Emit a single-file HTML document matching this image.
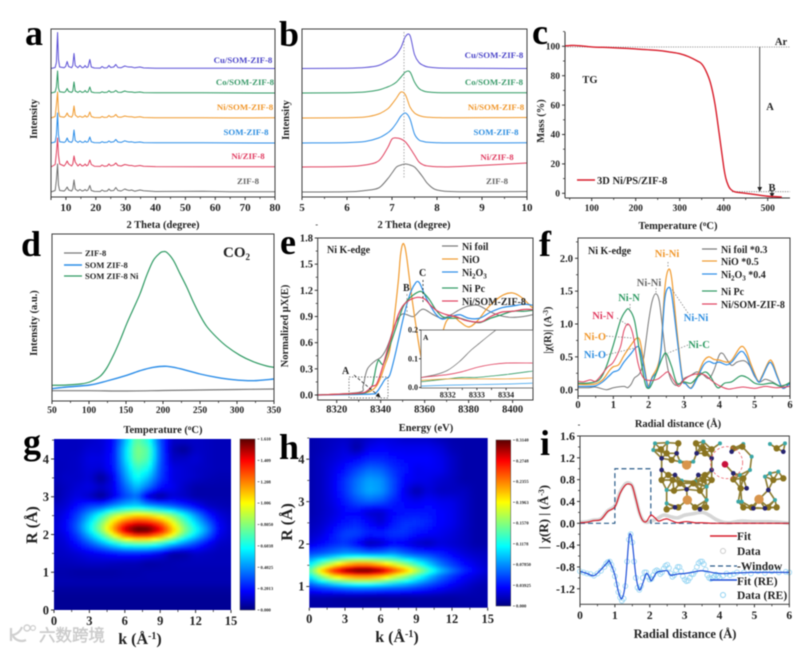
<!DOCTYPE html>
<html lang="en">
<head>
<meta charset="utf-8">
<title>Ni/SOM-ZIF-8 characterization figure</title>
<style>
html,body{margin:0;padding:0;background:#fff;width:794px;height:648px;overflow:hidden}
svg{display:block;filter:blur(.5px)}
text{font-family:"Liberation Serif","Noto Serif CJK SC",serif;font-weight:bold;fill:#222}
.lbl{font-size:36px;fill:#000}
.ttl{font-size:10.5px;text-anchor:middle}
.big{font-size:16px;text-anchor:middle}
.tag{font-size:8.8px;text-anchor:middle}
.leg{font-size:10px}
.frame{fill:none;stroke:#3c3c3c;stroke-width:1}
</style>
</head>
<body>
<svg id="figure" xmlns="http://www.w3.org/2000/svg" width="794" height="648" viewBox="0 0 794 648">
<defs>
<marker id="arrow-head" markerWidth="6" markerHeight="6" refX="5" refY="3" orient="auto-start-reverse"><path d="M0 0L6 3L0 6Z" fill="#222"/></marker>
<linearGradient id="jet-gradient" x1="0" y1="1" x2="0" y2="0">
<stop offset="0" stop-color="#00007f"/><stop offset=".11" stop-color="#0000ff"/><stop offset=".36" stop-color="#00ffff"/><stop offset=".625" stop-color="#ffff00"/><stop offset=".875" stop-color="#ff0000"/><stop offset="1" stop-color="#5a0000"/>
</linearGradient>
<clipPath id="clip-g"><rect x="54" y="439" width="177" height="171"/></clipPath>
<clipPath id="clip-h"><rect x="309.3" y="438" width="178.4" height="169.7"/></clipPath>
<clipPath id="clip-inset"><rect x="421" y="330" width="112" height="58"/></clipPath>
<filter id="heat-blur" x="-5%" y="-5%" width="110%" height="110%"><feGaussianBlur stdDeviation="1.3"/></filter>
</defs>

<!-- Panel a -->
<g>
<text class="lbl" x="25" y="45">a</text>
<g id="a-marks"></g>
<rect class="frame" x="51" y="29" width="224" height="168"/>
<g id="a-axis"></g>
<text class="ttl" x="163" y="228">2 Theta (degree)</text>
<text class="ttl" x="37" y="119" transform="rotate(-90 37 119)">Intensity</text>
<text class="tag" x="243" y="63" style="fill:#4b45c8">Cu/SOM-ZIF-8</text>
<text class="tag" x="245" y="85" style="fill:#3a9a6a">Co/SOM-ZIF-8</text>
<text class="tag" x="245" y="110" style="fill:#f0962a">Ni/SOM-ZIF-8</text>
<text class="tag" x="246" y="135" style="fill:#2e8ee0">SOM-ZIF-8</text>
<text class="tag" x="248" y="159" style="fill:#e03a5f">Ni/ZIF-8</text>
<text class="tag" x="248" y="184" style="fill:#666">ZIF-8</text>
</g>

<!-- Panel b -->
<g>
<text class="lbl" x="279" y="46">b</text>
<line x1="404" y1="32" x2="404" y2="179" stroke="#999" stroke-width=".8" stroke-dasharray="1.5 1.5"/>
<g id="b-marks"></g>
<rect class="frame" x="302" y="29" width="225" height="168"/>
<g id="b-axis"></g>
<text class="ttl" x="414" y="228">2 Theta (degree)</text>
<text class="ttl" x="289" y="120" transform="rotate(-90 289 120)">Intensity</text>
<text class="tag" x="494" y="58" style="fill:#4b45c8">Cu/SOM-ZIF-8</text>
<text class="tag" x="494" y="85" style="fill:#3a9a6a">Co/SOM-ZIF-8</text>
<text class="tag" x="496" y="110" style="fill:#f0962a">Ni/SOM-ZIF-8</text>
<text class="tag" x="496" y="135" style="fill:#2e8ee0">SOM-ZIF-8</text>
<text class="tag" x="497" y="160" style="fill:#e03a5f">Ni/ZIF-8</text>
<text class="tag" x="497" y="184" style="fill:#666">ZIF-8</text>
</g>

<!-- Panel c -->
<g>
<text class="lbl" x="532" y="44">c</text>
<g id="c-axis"></g>
<line x1="565" y1="47" x2="790" y2="47" stroke="#777" stroke-width=".8" stroke-dasharray="1.2 1.2"/>
<line x1="732" y1="191.7" x2="790" y2="191.7" stroke="#777" stroke-width=".8" stroke-dasharray="1.2 1.2"/>
<line x1="759.7" y1="47" x2="759.7" y2="191" stroke="#222" stroke-width=".8" marker-end="url(#arrow-head)"/>
<line x1="772" y1="190" x2="772" y2="197" stroke="#222" stroke-width=".8" marker-end="url(#arrow-head)"/>
<g id="c-marks"></g>
<line x1="577" y1="180" x2="595" y2="180" stroke="#d81c2a" stroke-width="1.4"/>
<text x="597" y="184" font-size="10.5">3D Ni/PS/ZIF-8</text>
<text x="590" y="83" class="ttl">TG</text>
<text x="781" y="45" class="ttl">Ar</text>
<text x="770" y="110" class="ttl">A</text>
<text x="772" y="191" class="ttl">B</text>
<text class="ttl" x="678" y="229">Temperature (<tspan dy="-3" font-size="7">o</tspan><tspan dy="3">C)</tspan></text>
<text class="ttl" x="544" y="121" transform="rotate(-90 544 121)">Mass (%)</text>
</g>

<!-- Panel d -->
<g>
<text class="lbl" x="21" y="256">d</text>
<g id="d-marks"></g>
<rect class="frame" x="52" y="234" width="222" height="167"/>
<g id="d-axis"></g>
<text x="223" y="257" font-size="15">CO<tspan dy="3" font-size="9">2</tspan></text>
<line x1="64" y1="253" x2="82" y2="253" stroke="#777" stroke-width="1.2"/>
<line x1="64" y1="265" x2="82" y2="265" stroke="#2b8de8" stroke-width="1.4"/>
<line x1="64" y1="276" x2="82" y2="276" stroke="#2f9a63" stroke-width="1.2"/>
<text x="85" y="256" font-size="8.5">ZIF-8</text>
<text x="85" y="268" font-size="8.5">SOM ZIF-8</text>
<text x="85" y="279" font-size="8.5">SOM ZIF-8 Ni</text>
<text class="ttl" x="163" y="433">Temperature (<tspan dy="-3" font-size="7">o</tspan><tspan dy="3">C)</tspan></text>
<text class="ttl" x="37" y="323" transform="rotate(-90 37 323)">Intensity (a.u.)</text>
</g>

<!-- Panel e -->
<g>
<text class="lbl" x="280" y="254">e</text>
<g id="e-marks"></g>
<rect class="frame" x="317.7" y="238" width="215.3" height="162"/>
<g id="e-axis"></g>
<rect x="349" y="377" width="39" height="21" fill="none" stroke="#555" stroke-width=".7" stroke-dasharray="1.5 1.5"/>
<line x1="354" y1="375" x2="380" y2="397" stroke="#222" stroke-width=".8" stroke-dasharray="3 2" marker-end="url(#arrow-head)"/>
<line x1="407" y1="294" x2="407" y2="315" stroke="#888" stroke-width=".8" stroke-dasharray="2 2"/>
<line x1="423" y1="280" x2="423" y2="302" stroke="#222" stroke-width=".8" stroke-dasharray="2 2"/>
<text x="342" y="374" font-size="10">A</text>
<text x="403" y="291" font-size="10">B</text>
<text x="419" y="276" font-size="10">C</text>
<text x="327" y="253" font-size="10">Ni K-edge</text>
<line x1="442" y1="246" x2="458" y2="246" stroke="#777" stroke-width="1.2"/>
<line x1="442" y1="259" x2="458" y2="259" stroke="#f09a2e" stroke-width="1.2"/>
<line x1="442" y1="272" x2="458" y2="272" stroke="#2b8de8" stroke-width="1.2"/>
<line x1="442" y1="288" x2="458" y2="288" stroke="#2f9a63" stroke-width="1.2"/>
<line x1="442" y1="301" x2="458" y2="301" stroke="#e0415f" stroke-width="1.2"/>
<text class="leg" x="462" y="250">Ni foil</text>
<text class="leg" x="462" y="263">NiO</text>
<text class="leg" x="462" y="276">Ni<tspan dy="2.5" font-size="7">2</tspan><tspan dy="-2.5">O</tspan><tspan dy="2.5" font-size="7">3</tspan></text>
<text class="leg" x="462" y="292">Ni Pc</text>
<text class="leg" x="462" y="305">Ni/SOM-ZIF-8</text>
<g>
<rect x="421" y="330" width="112" height="58" fill="#fff" stroke="#555" stroke-width=".8"/>
<g id="inset-marks" clip-path="url(#clip-inset)"></g>
<g id="inset-axis"></g>
<text x="423" y="340" font-size="7.5">A</text>
</g>
<text class="ttl" x="426" y="431">Energy (eV)</text>
<text class="ttl" x="288" y="326" transform="rotate(-90 288 326)">Normalized μX(E)</text>
</g>

<!-- Panel f -->
<g>
<text class="lbl" x="539" y="256">f</text>
<g id="f-marks"></g>
<rect class="frame" x="578" y="238" width="212" height="158"/>
<g id="f-axis"></g>
<text x="588" y="254" font-size="10">Ni K-edge</text>
<line x1="702" y1="249" x2="717" y2="249" stroke="#777" stroke-width="1.2"/>
<line x1="702" y1="261" x2="717" y2="261" stroke="#f09a2e" stroke-width="1.2"/>
<line x1="702" y1="274" x2="717" y2="274" stroke="#2b8de8" stroke-width="1.2"/>
<line x1="702" y1="291" x2="717" y2="291" stroke="#2f9a63" stroke-width="1.2"/>
<line x1="702" y1="304" x2="717" y2="304" stroke="#e0415f" stroke-width="1.2"/>
<text class="leg" x="721" y="253">Ni foil *0.3</text>
<text class="leg" x="721" y="265">NiO *0.5</text>
<text class="leg" x="721" y="278">Ni<tspan dy="2.5" font-size="7">2</tspan><tspan dy="-2.5">O</tspan><tspan dy="2.5" font-size="7">3</tspan><tspan dy="-2.5"> *0.4</tspan></text>
<text class="leg" x="721" y="295">Ni Pc</text>
<text class="leg" x="721" y="308">Ni/SOM-ZIF-8</text>
<g text-anchor="middle" font-size="10.5">
<text x="667" y="257" style="fill:#f0962a">Ni-Ni</text>
<text x="649" y="286" style="fill:#666">Ni-Ni</text>
<text x="629" y="301" style="fill:#2f9a63">Ni-N</text>
<text x="603" y="319" style="fill:#e03a5f">Ni-N</text>
<text x="595" y="340" style="fill:#f0962a">Ni-O</text>
<text x="595" y="358" style="fill:#2e8ee0">Ni-O</text>
<text x="696" y="321" style="fill:#2e8ee0">Ni-Ni</text>
<text x="699" y="348" style="fill:#2f9a63">Ni-C</text>
</g>
<g stroke="#777" stroke-width=".7" stroke-dasharray="1.5 1.5" fill="none">
<path d="M668 262V268M656 288V294M630 304V312M617 318L629 326M606 336L632 338M606 355L639 347M688 313L671 288M688 345L668 353"/>
</g>
<text class="ttl" x="678" y="427">Radial distance (Å)</text>
<text class="ttl" x="551" y="330" transform="rotate(-90 551 330)">|χ(R)| (A<tspan dy="-3" font-size="7">-3</tspan><tspan dy="3">)</tspan></text>
</g>

<!-- Panel g -->
<g>
<text class="lbl" x="23" y="454">g</text>
<g clip-path="url(#clip-g)"><g id="g-heat" filter="url(#heat-blur)"></g></g>
<g id="g-axis"></g>
<rect x="240" y="439" width="15" height="171" fill="url(#jet-gradient)" stroke="#444" stroke-width=".5"/>
<g id="g-bar"></g>
<text class="big" x="140" y="644">k (Å<tspan dy="-5" font-size="10">-1</tspan><tspan dy="5">)</tspan></text>
<text class="big" x="37" y="525" transform="rotate(-90 37 525)">R (Å)</text>
<g>
<path d="M11 628V641M11 635C16 635 20 632 22 627M13 636C16 641 22 642 26 640" fill="none" stroke="#cfcfcf" stroke-width="2.2"/>
<circle cx="27" cy="628" r="3" fill="none" stroke="#cfcfcf" stroke-width="1.4"/>
<circle cx="33" cy="628" r="2.4" fill="none" stroke="#cfcfcf" stroke-width="1.2"/>
<text x="39" y="641" font-size="16.5" style="fill:#c8c8c8;stroke:#cfcfcf;stroke-width:.5;font-family:'Noto Sans CJK SC',sans-serif;font-weight:normal">六数跨境</text>
</g>
</g>

<!-- Panel h -->
<g>
<text class="lbl" x="279" y="459">h</text>
<g clip-path="url(#clip-h)"><g id="h-heat" filter="url(#heat-blur)"></g></g>
<g id="h-axis"></g>
<rect x="496" y="440" width="14.7" height="166" fill="url(#jet-gradient)" stroke="#444" stroke-width=".5"/>
<g id="h-bar"></g>
<text class="big" x="397" y="642">k (Å<tspan dy="-5" font-size="10">-1</tspan><tspan dy="5">)</tspan></text>
<text class="big" x="292" y="522" transform="rotate(-90 292 522)">R (Å)</text>
</g>

<!-- Panel i -->
<g>
<text class="lbl" x="540" y="455">i</text>
<g id="i-marks"></g>
<g id="i-structure" transform="translate(530 420) scale(.3333)"></g>
<rect class="frame" x="580" y="436" width="209.3" height="168.3"/>
<g id="i-axis"></g>
<line x1="710" y1="536" x2="737" y2="536" stroke="#d81c2a" stroke-width="1.4"/>
<circle cx="723" cy="551" r="2.5" fill="none" stroke="#ccc" stroke-width="1"/>
<line x1="710" y1="566" x2="737" y2="566" stroke="#2b5c8a" stroke-width="1.3" stroke-dasharray="5 3"/>
<line x1="710" y1="580" x2="737" y2="580" stroke="#1f4fd8" stroke-width="1.4"/>
<circle cx="723" cy="595" r="2.5" fill="none" stroke="#8fd2f2" stroke-width="1"/>
<text x="737" y="540" font-size="11.5">Fit</text>
<text x="737" y="555" font-size="11.5">Data</text>
<text x="737" y="570" font-size="11.5">-Window</text>
<text x="737" y="585" font-size="11.5">Fit (RE)</text>
<text x="737" y="599" font-size="11.5">Data (RE)</text>
<text x="685" y="638" font-size="12.5" text-anchor="middle">Radial distance (Å)</text>
<text x="548" y="517" font-size="13" text-anchor="middle" transform="rotate(-90 548 517)">| χ(R) | (Å<tspan dy="-4" font-size="8">-3</tspan><tspan dy="4">)</tspan></text>
</g>
</svg>

<script>
// Panel a: wide-angle XRD (intensity above each trace baseline)
const aTheta=[5,6.4,6.8,7.2,7.5,7.9,9.4,9.9,10.4,10.9,11.9,12.3,12.7,13.1,14,14.7,15.4,16,16.4,16.9,17.4,18,18.5,19.5,21.5,22.1,22.8,23.8,24.4,25,26,26.7,27.4,28.5,29.7,30.5,31.2,32,33,34.8,36,40,56,65,80];
const aCu=[0,1,6,36,9,1.5,.8,2,7,2,.8,3,15,3,.8,3,.8,1.2,3,1,1.5,9,1.5,.5,.4,2,.6,.8,3,1,1.5,4,1,.8,2.5,1.8,1.5,1.5,.7,1.5,.6,.3,.3,.2,0];
const aCo=[0,1,6,22,5,1.2,.6,1.5,4.5,1.5,.6,2,11,2,.6,2,.6,1,2.5,.8,1,6,1,.4,.3,1.2,.5,.7,2.2,.8,1,2.5,.8,.6,2,1.2,1,1,.5,1,.4,.2,.2,.1,0];
const aNiSom=[0,1.5,13,26,7,1.5,.8,2,5,2,.8,3,12,3,.8,1.8,.8,1.2,2.5,1,1.5,6,1.5,.5,.4,1.5,.6,.8,2.5,1,1.5,3.5,1,.8,2,1.5,1.2,1.2,.6,1.2,.5,.2,.2,.1,.2];
const aSom=[0,1,8,30,8,1.2,.6,1.5,5,1.5,.6,2.5,13,2.5,.6,2,.6,.8,2,.8,1.2,6,1.2,.4,.3,1.3,.5,.7,2,.8,1.2,3.5,1,.6,2.2,1.4,1,1.2,.5,1,.4,.2,.3,.1,0];
const aNiZif=[0,2.5,14,29,12,3,1,3,6,3,1,3,11,5,1,3,1,1.5,3,1.2,2,7,2.5,.8,.6,2,.8,1,3,1.2,2,4,1.5,1,2.5,2,1.5,1.5,.8,1.5,.8,.4,.3,.2,.3];
const aZif=[0,1.5,12,28,7,1.5,1,2.5,5,2,1,3,12,3,1,2.5,1,1.5,2.5,1.2,2,6.5,1.5,.6,.5,2,.8,1,3,1.2,1.5,4.5,1.5,1,3,2,1.5,2,.8,2,1.2,.5,.8,.3,.2];
const aXTicks=[10,20,30,40,50,60,70,80];
const stackOffsetCu=128.5, stackOffsetCo=104, stackOffsetNiSom=79, stackOffsetSom=54, stackOffsetNiZif=30, stackOffsetZif=5;

// Panel b: first-peak XRD
const bTheta=[5,6,6.4,6.7,6.9,7,7.1,7.2,7.3,7.4,7.5,7.6,7.7,7.8,8,8.5,10];
const bCu=[0,.3,1,3,7.5,10,14,21,32,33,14,6,3,1.5,.6,.2,0];
const bCo=[0,.3,1,3,6,8,11,16,21,21,11,4.5,2,1,.4,.3,.3];
const bNiSom=[0,.3,1,4,9,14,20,26,23,11,5,2.5,1.3,.8,.4,.2,.5];
const bSom=[0,.4,1.5,5,10,14,20,27,30,24,9,3,1.5,.7,.3,.1,.2];
const bNiZif=[0,.5,2,6,19,28,29,28,25,19,12,5,2,1,.3,.5,4];
const bZif=[0,.2,1.5,4,13,19,25,27,28,27,25,20,14,8,2,.3,.5];
const bXTicks=[5,6,7,8,9,10];

// Panel c: TG
const cCurve=[[40,100.3],[50,100.5],[60,100.6],[80,100.2],[100,99.6],[150,99],[200,98.2],[250,97.2],[280,96],[300,95],[320,93],[340,90],[350,88],[360,83],[370,75],[380,61],[390,40],[400,18],[405,10],[410,5.6],[415,3],[425,1],[450,0],[480,-1.2],[500,-2],[532,-2.5]];
const cXTicks=[100,200,300,400,500];
const cYTicks=[0,20,40,60,80,100];

// Panel d: CO2 TPD
const dGreen=[[50,15.7],[70,16],[88,17],[101,19],[115,24.7],[124,33],[133,45.7],[142,60.7],[151,77.3],[160,92.3],[169,107.3],[178,125.7],[187,140.7],[196,148],[200,149.3],[205,148.7],[214,140.7],[223,127.3],[232,114],[241,99],[250,85.7],[259,74.7],[272,64],[286,54.7],[304,45.7],[322,39.3],[340,35],[350,33.7]];
const dBlue=[[50,12.3],[70,14],[101,16],[124,20],[151,25.7],[169,30.3],[187,33.7],[205,34.7],[223,32.3],[250,27],[272,23.7],[295,21.3],[322,20.3],[350,22]];
const dGray=[[50,10.3],[100,10.3],[150,10],[200,10.5],[250,11],[300,11.5],[350,12]];
const dXTicks=[50,100,150,200,250,300,350];

// Panel e: XANES
const eFoil=[[8311,0],[8330,.03],[8332,.1],[8333,.22],[8334,.3],[8336,.36],[8338,.4],[8340,.43],[8342,.5],[8344,.62],[8346,.78],[8348,.88],[8350,.93],[8352,.92],[8355,.9],[8358,.97],[8360,.98],[8364,.92],[8368,.88],[8372,.92],[8376,.98],[8380,1.02],[8384,1.03],[8388,.98],[8392,.93],[8396,.9],[8400,.89],[8405,.9],[8409,.92]];
const eNiO=[[8311,0],[8330,.02],[8335,.04],[8338,.1],[8340,.2],[8342,.35],[8344,.5],[8346,.85],[8348,1.3],[8349,1.6],[8350,1.73],[8351,1.7],[8352,1.55],[8354,1.15],[8356,.8],[8358,.48],[8360,.26],[8361,.2],[8363,.25],[8365,.42],[8368,.7],[8370,.85],[8373,.9],[8376,.84],[8380,.78],[8384,.85],[8388,.98],[8392,1.08],[8396,1.15],[8400,1.17],[8404,1.12],[8409,1]];
const eNi2O3=[[8311,0],[8335,.01],[8338,.03],[8340,.1],[8342,.18],[8344,.22],[8346,.4],[8348,.62],[8350,.85],[8352,1.05],[8354,1.2],[8356,1.29],[8357,1.3],[8358,1.27],[8360,1.15],[8362,1.05],[8365,.93],[8368,.87],[8372,.9],[8376,.92],[8380,.88],[8385,.88],[8390,.95],[8395,1],[8400,1.02],[8405,1.04],[8409,1.03]];
const ePc=[[8311,0],[8330,.015],[8334,.04],[8336,.1],[8337,.2],[8338,.33],[8339,.4],[8340,.37],[8341,.35],[8342,.4],[8344,.55],[8346,.7],[8348,.85],[8350,1],[8352,1.08],[8354,1.13],[8357,1.18],[8359,1.18],[8362,1.1],[8365,.98],[8368,.9],[8372,.88],[8376,.88],[8380,.85],[8385,.83],[8390,.88],[8395,.92],[8400,.96],[8405,.96],[8409,.97]];
const eNiSom=[[8311,0],[8330,.02],[8334,.05],[8336,.1],[8338,.12],[8340,.25],[8342,.42],[8344,.6],[8346,.76],[8348,.92],[8350,1.02],[8352,1.07],[8354,1.1],[8357,1.12],[8360,1.1],[8363,1.02],[8366,.96],[8370,.92],[8374,.9],[8378,.86],[8382,.84],[8386,.84],[8390,.9],[8395,.95],[8400,.96],[8405,.98],[8409,.98]];
const eXTicks=[8320,8340,8360,8380,8400];
const eYTicks=[0,.3,.6,.9,1.2,1.5,1.8];
const insetFoil=[[8331.1,.035],[8331.6,.045],[8332,.06],[8332.4,.09],[8332.8,.13],[8333.1,.155],[8333.4,.18],[8333.65,.2],[8333.9,.22]];
const insetNiSom=[[8331.1,.035],[8332,.045],[8332.5,.055],[8333,.07],[8333.5,.08],[8334,.085],[8334.9,.085]];
const insetPc=[[8331.1,.02],[8332,.03],[8332.5,.035],[8333,.035],[8333.5,.04],[8334,.045],[8334.9,.057]];
const insetNiO=[[8331.1,.025],[8332,.03],[8333,.03],[8334,.03],[8334.9,.033]];
const insetNi2O3=[[8331.1,.005],[8332,.008],[8333,.01],[8334,.012],[8334.9,.015]];
const insetXTicks=[8332,8333,8334];
const insetYTicks=[0,.1,.2];

// Panel f: FT-EXAFS
const fFoil=[[0,.03],[.3,.03],[.5,.04],[.8,0],[1,.03],[1.3,.05],[1.4,.03],[1.5,.08],[1.6,.18],[1.75,.25],[1.85,.45],[2,1.05],[2.1,1.35],[2.2,1.46],[2.3,1.35],[2.4,.9],[2.5,.45],[2.6,.2],[2.75,.07],[2.9,.1],[3,.17],[3.2,.22],[3.35,.27],[3.5,.25],[3.7,.17],[3.85,.3],[4,.53],[4.1,.55],[4.2,.47],[4.35,.37],[4.5,.42],[4.7,.44],[4.85,.37],[5,.2],[5.15,.12],[5.3,.16],[5.5,.12],[5.7,.06],[5.85,.07],[6,.08]];
const fNiO=[[0,.08],[.3,.08],[.5,.09],[.7,.15],[.9,.3],[1,.35],[1.15,.38],[1.3,.52],[1.5,.68],[1.65,.78],[1.75,.75],[1.85,.45],[1.95,.12],[2,.06],[2.1,.2],[2.25,.35],[2.35,.65],[2.45,1.5],[2.55,1.82],[2.65,1.7],[2.8,.9],[2.95,.2],[3.05,.1],[3.2,.03],[3.35,.18],[3.55,.43],[3.7,.5],[3.85,.46],[4,.45],[4.2,.42],[4.35,.45],[4.6,.65],[4.75,.6],[4.9,.38],[5.1,.13],[5.2,.2],[5.4,.43],[5.5,.42],[5.65,.2],[5.8,.02],[6,.1]];
const fNi2O3=[[0,.05],[.3,.05],[.5,.06],[.7,.12],[.9,.22],[1,.27],[1.15,.3],[1.3,.42],[1.5,.55],[1.65,.65],[1.75,.62],[1.85,.38],[1.95,.1],[2,.03],[2.1,.18],[2.25,.3],[2.35,.6],[2.45,1.35],[2.55,1.55],[2.65,1.45],[2.8,.8],[2.95,.17],[3.05,.09],[3.2,.02],[3.35,.15],[3.55,.37],[3.7,.43],[3.85,.4],[4,.42],[4.2,.38],[4.35,.42],[4.6,.58],[4.75,.52],[4.9,.33],[5.1,.12],[5.2,.18],[5.4,.4],[5.5,.38],[5.65,.18],[5.8,.02],[6,.1]];
const fPc=[[0,.1],[.3,.1],[.6,.15],[.8,.35],[1,.68],[1.2,1.05],[1.35,1.2],[1.45,1.22],[1.6,1.05],[1.75,.55],[1.9,.1],[2,.02],[2.1,.1],[2.25,.3],[2.4,.5],[2.5,.55],[2.65,.35],[2.8,.1],[3,.12],[3.2,.1],[3.4,.2],[3.6,.27],[3.75,.2],[3.95,.03],[4.15,.1],[4.35,.12],[4.6,.21],[4.8,.18],[5,.1],[5.2,.08],[5.5,.1],[5.75,.05],[6,.11]];
const fNiSom=[[0,.13],[.15,.12],[.35,.15],[.5,.13],[.7,.25],[.85,.35],[1,.42],[1.2,.65],[1.3,.9],[1.42,1],[1.55,.85],[1.7,.4],[1.85,.18],[2.05,.14],[2.25,.16],[2.4,.22],[2.55,.27],[2.7,.15],[2.85,.05],[3,.15],[3.2,.22],[3.4,.24],[3.6,.22],[3.8,.13],[4,.06],[4.25,.01],[4.5,.03],[4.7,.04],[5,.02],[5.3,.05],[5.6,.03],[6,.05]];
const fXTicks=[0,1,2,3,4,5,6];
const fYTicks=[0,.5,1,1.5,2];

// Panel g: wavelet transform (columns k = 0..15, rows by R from top to bottom)
const gK=[0,1,2,3,4,5,6,7,8,9,10,11,12,13,14,15];
const gR=[4.5,4.25,4,3.75,3.5,3.25,3,2.75,2.5,2.25,2.125,2,1.75,1.5,1.25,1,.75,.5,.25,0];
const gValues=[
[.09,.09,.09,.1,.12,.18,.45,.75,.62,.3,.1,.1,.1,.09,.08,.08],
[.09,.09,.09,.12,.12,.2,.5,.8,.72,.32,.08,.03,.1,.09,.08,.08],
[.09,.09,.1,.14,.14,.2,.5,.78,.7,.32,.1,.1,.12,.09,.08,.08],
[.08,.09,.1,.13,.12,.2,.45,.68,.6,.3,.14,.12,.1,.09,.08,.08],
[.08,.1,.1,.12,.03,.15,.4,.6,.48,.28,.14,.12,.1,.08,.07,.07],
[.06,.09,.12,.14,.1,.15,.33,.48,.35,.2,.16,.1,.06,.06,.06,.06],
[.05,.1,.14,.1,.02,.14,.28,.35,.1,.03,.12,.1,.06,.06,.06,.06],
[.09,.12,.2,.27,.3,.4,.48,.52,.44,.38,.32,.25,.18,.1,.08,.07],
[.1,.16,.28,.45,.65,.88,1,1.08,1.05,.95,.82,.62,.42,.24,.13,.09],
[.11,.18,.33,.56,.82,1.12,1.4,1.52,1.5,1.35,1.06,.78,.56,.37,.17,.1],
[.11,.17,.32,.55,.82,1.14,1.47,1.62,1.6,1.42,1.12,.82,.6,.4,.17,.1],
[.1,.15,.28,.48,.7,1,1.3,1.45,1.43,1.28,1.05,.75,.55,.35,.15,.1],
[.1,.12,.2,.3,.42,.55,.66,.7,.7,.62,.5,.38,.28,.17,.1,.09],
[.09,.1,.12,.15,.17,.2,.22,.22,.2,.15,.05,.05,.1,.09,.08,.08],
[.08,.08,.09,.1,.1,.09,.08,.08,.05,.06,.07,.08,.08,.08,.08,.08],
[.06,.06,.05,.05,.05,.05,.06,.06,.07,.07,.07,.07,.07,.07,.07,.07],
[.07,.07,.07,.07,.07,.07,.07,.07,.07,.07,.07,.07,.07,.07,.07,.07],
[.04,.04,.04,.04,.04,.04,.04,.04,.04,.04,.04,.04,.04,.04,.04,.04],
[.03,.03,.03,.03,.03,.03,.03,.03,.03,.03,.03,.03,.03,.03,.03,.03],
[.03,.03,.03,.03,.03,.03,.03,.03,.03,.03,.03,.03,.03,.03,.03,.03]];
const gXTicks=[0,3,6,9,12,15];
const gYTicks=[0,1,2,3,4];
const gBarLabels=["0.000","0.2013","0.4025","0.6038","0.8050","1.006","1.208","1.409","1.610"];
const gMax=1.61;

// Panel h: wavelet transform (columns k = 0..15, rows by R from top to bottom)
const hK=[0,1,2,3,4,5,6,7,8,9,10,11,12,13,14,15];
const hR=[4.5,4.25,4,3.75,3.5,3.25,3,2.75,2.5,2.25,2,1.75,1.5,1.375,1.25,1,.75,.5];
const hValues=[
[.012,.015,.018,.02,.015,.02,.025,.025,.02,.02,.02,.015,.012,.012,.012,.012],
[.012,.015,.02,.025,.01,.03,.035,.03,.03,.03,.03,.025,.015,.012,.012,.012],
[.012,.018,.024,.03,.035,.045,.045,.04,.035,.035,.035,.03,.02,.012,.012,.012],
[.012,.018,.028,.04,.055,.068,.065,.05,.04,.03,.032,.03,.02,.012,.012,.012],
[.012,.018,.03,.05,.07,.085,.08,.058,.035,.03,.028,.022,.018,.012,.012,.012],
[.012,.018,.03,.05,.072,.088,.082,.058,.03,.012,.025,.018,.018,.018,.012,.012],
[.012,.018,.028,.042,.058,.065,.06,.045,.035,.03,.035,.03,.028,.02,.012,.012],
[.012,.018,.025,.035,.035,.022,.02,.035,.038,.04,.04,.035,.03,.02,.012,.012],
[.015,.02,.03,.04,.045,.035,.022,.04,.05,.05,.045,.035,.03,.02,.012,.012],
[.018,.025,.04,.055,.055,.045,.045,.05,.05,.04,.035,.03,.025,.018,.012,.012],
[.025,.035,.045,.05,.035,.012,.018,.035,.03,.02,.015,.025,.022,.018,.012,.012],
[.06,.065,.075,.085,.085,.08,.08,.085,.07,.06,.055,.045,.035,.025,.02,.018],
[.11,.16,.2,.235,.255,.255,.235,.205,.175,.14,.105,.075,.055,.04,.028,.02],
[.14,.21,.265,.3,.315,.315,.3,.26,.225,.18,.135,.095,.07,.048,.032,.022],
[.11,.165,.21,.235,.25,.25,.235,.2,.17,.135,.1,.072,.052,.036,.026,.018],
[.05,.06,.07,.08,.085,.085,.08,.075,.07,.06,.05,.04,.03,.022,.015,.012],
[.012,.012,.01,.008,.008,.006,.006,.008,.008,.01,.01,.01,.01,.012,.012,.012],
[.01,.01,.01,.01,.01,.01,.01,.01,.01,.01,.01,.01,.01,.01,.01,.01]];
const hXTicks=[0,3,6,9,12,15];
const hYTicks=[1,2,3,4];
const hBarLabels=["0.000","0.03925","0.07850","0.1178","0.1570","0.1963","0.2355","0.2748","0.3140"];
const hMax=.314;

// Panel i: R-space fit
const iFit=[[0,.01],[.2,.02],[.4,.05],[.6,.07],[.8,.22],[1,.3],[1.15,.55],[1.3,.7],[1.4,.72],[1.5,.68],[1.6,.45],[1.7,.2],[1.8,.05],[1.9,.03],[2,.13],[2.05,.15],[2.15,.1],[2.25,.04],[2.4,.07],[2.5,.08],[2.65,.04],[2.8,.01],[3,.03],[3.1,.03],[3.3,.01],[3.5,.01],[3.8,0],[4,0],[6,0]];
const iData=[[0,.02],[.2,.03],[.4,.06],[.6,.08],[.8,.23],[1,.32],[1.15,.57],[1.3,.72],[1.4,.74],[1.5,.68],[1.6,.45],[1.7,.2],[1.8,.06],[1.9,.02],[2,.03],[2.2,.08],[2.4,.15],[2.6,.12],[2.8,.1],[3,.15],[3.2,.17],[3.5,.2],[3.7,.15],[3.9,.07],[4.1,.02],[4.3,.01],[4.6,.04],[5,.03],[5.4,.03],[5.7,.02],[6,0]];
const iFitRe=[[0,-.88],[.2,-.92],[.4,-.96],[.6,-.85],[.8,-.71],[.85,-.7],[1,-.95],[1.1,-1.25],[1.2,-1.38],[1.3,-1.1],[1.4,-.3],[1.45,-.2],[1.5,-.35],[1.6,-.95],[1.7,-1.22],[1.8,-1.1],[1.9,-.92],[2,-1],[2.05,-1.05],[2.2,-.9],[2.35,-.88],[2.5,-.87],[2.6,-.95],[2.8,-.93],[3,-.92],[3.2,-.9],[3.5,-.87],[4,-.92],[4.5,-.91],[5,-.9],[6,-.9]];
const iDataRe=[[0,-.88],[.1,-.9],[.2,-.92],[.3,-.93],[.4,-.96],[.5,-.92],[.6,-.87],[.7,-.8],[.75,-.74],[.8,-.71],[.85,-.7],[.9,-.76],[.95,-.85],[1,-.97],[1.05,-1.12],[1.1,-1.26],[1.15,-1.36],[1.2,-1.42],[1.25,-1.38],[1.3,-1.15],[1.35,-.7],[1.4,-.3],[1.45,-.2],[1.5,-.35],[1.55,-.7],[1.6,-1],[1.65,-1.18],[1.7,-1.22],[1.75,-1.15],[1.8,-1],[1.85,-.9],[1.9,-.9],[1.95,-.98],[2,-1.03],[2.05,-1.02],[2.1,-.95],[2.15,-.88],[2.2,-.86],[2.25,-.88],[2.3,-.93],[2.35,-.9],[2.4,-.83],[2.45,-.78],[2.5,-.76],[2.55,-.82],[2.6,-.92],[2.65,-.98],[2.7,-.95],[2.75,-.86],[2.8,-.8],[2.85,-.8],[2.9,-.88],[2.95,-.97],[3,-1.03],[3.05,-1.06],[3.1,-1.05],[3.15,-1],[3.2,-.93],[3.25,-.93],[3.3,-.88],[3.35,-.8],[3.4,-.73],[3.45,-.7],[3.5,-.7],[3.55,-.75],[3.6,-.85],[3.65,-.95],[3.7,-1],[3.75,-1.02],[3.8,-1],[3.85,-.97],[3.9,-.94],[3.95,-.97],[4,-1],[4.1,-.96],[4.2,-.92],[4.3,-.95],[4.4,-.93],[4.5,-.9],[4.7,-.9],[4.9,-.92],[5.1,-.88],[5.3,-.91],[5.5,-.88],[5.7,-.9],[5.9,-.89],[6,-.9]];
const iWindow=[[0,0],[1,0],[1,1],[2.03,1],[2.03,0],[6,0]];
const iXTicks=[0,1,2,3,4,5,6];
const iYTicks=[-1.2,-.8,-.4,0,.4,.8,1.2,1.6];

const NS="http://www.w3.org/2000/svg";
const GRAY="#707070",RED="#e0415f",BLUE="#2b8de8",ORANGE="#f09a2e",GREEN="#2f9a63",PURPLE="#5b50d6";
const scale=(d0,d1,r0,r1)=>v=>r0+(v-d0)/(d1-d0)*(r1-r0);
const byId=id=>document.getElementById(id);

function drawCurve(parent,name,pts,X,Y,color,width,smooth,dash){
  const p=pts.map(d=>[X(d[0]),Y(d[1])]);
  let d="M"+p[0][0].toFixed(2)+" "+p[0][1].toFixed(2);
  for(let i=1;i<p.length;i++){
    if(smooth){
      const a=p[Math.max(i-2,0)],b=p[i-1],c=p[i],e=p[Math.min(i+1,p.length-1)];
      d+="C"+(b[0]+(c[0]-a[0])/6).toFixed(2)+" "+(b[1]+(c[1]-a[1])/6).toFixed(2)+" "+(c[0]-(e[0]-b[0])/6).toFixed(2)+" "+(c[1]-(e[1]-b[1])/6).toFixed(2)+" "+c[0].toFixed(2)+" "+c[1].toFixed(2);
    }else{
      d+="L"+p[i][0].toFixed(2)+" "+p[i][1].toFixed(2);
    }
  }
  const el=document.createElementNS(NS,"path");
  
  
  el.setAttribute("d",d);
  el.setAttribute("fill","none");
  el.setAttribute("stroke",color);
  el.setAttribute("stroke-width",width);
  el.setAttribute("stroke-linejoin","round");
  if(dash)el.setAttribute("stroke-dasharray",dash);
  parent.appendChild(el);
}
function drawTick(parent,x1,y1,x2,y2,w){
  const l=document.createElementNS(NS,"line");
  
  
  l.setAttribute("x1",x1);l.setAttribute("y1",y1);l.setAttribute("x2",x2);l.setAttribute("y2",y2);
  l.setAttribute("stroke","#333");l.setAttribute("stroke-width",w||1);
  parent.appendChild(l);
}
function drawLabel(parent,str,x,y,size,anchor){
  const t=document.createElementNS(NS,"text");
  
  
  t.setAttribute("x",x);t.setAttribute("y",y);
  t.setAttribute("font-size",size);t.setAttribute("text-anchor",anchor);
  t.textContent=str;
  parent.appendChild(t);
}
function xAxis(parent,ticks,X,y,baseline,size,fmt,minorStep,len){
  ticks.forEach(v=>{
    drawTick(parent,X(v),y,X(v),y+(len||3));
    drawLabel(parent,fmt?fmt(v):String(v),X(v),baseline,size,"middle");
  });
  if(minorStep){
    ticks.forEach(v=>{
      const m=v+minorStep;
      if(m<=ticks[ticks.length-1]+minorStep/2 && X(m)<=X(ticks[ticks.length-1])+60)drawTick(parent,X(m),y,X(m),y+2,.8);
    });
  }
}
function yAxis(parent,ticks,Y,x,labelX,size,fmt,minorStep,len){
  ticks.forEach(v=>{
    drawTick(parent,x-(len||3),Y(v),x,Y(v));
    drawLabel(parent,fmt?fmt(v):String(v),labelX,Y(v)+size*.34,size,"end");
  });
  if(minorStep){
    ticks.forEach(v=>{drawTick(parent,x-2,Y(v+minorStep),x,Y(v+minorStep),.8);});
  }
}
const f1=v=>v.toFixed(1);

// a
(function(){
  const X=scale(5,80,51,275),Y=scale(0,168,197,29),g=byId("a-marks");
  const series=[["xrd-a-zif",aZif,stackOffsetZif,GRAY],["xrd-a-ni-zif",aNiZif,stackOffsetNiZif,RED],["xrd-a-som",aSom,stackOffsetSom,BLUE],["xrd-a-ni-som",aNiSom,stackOffsetNiSom,ORANGE],["xrd-a-co-som",aCo,stackOffsetCo,GREEN],["xrd-a-cu-som",aCu,stackOffsetCu,PURPLE]];
  series.forEach(s=>drawCurve(g,s[0],aTheta.map((t,i)=>[t,s[1][i]+s[2]]),X,Y,s[3],1,false));
  xAxis(byId("a-axis"),aXTicks,X,197,211,11,null,5);
  drawTick(byId("a-axis"),X(5),197,X(5),200);
})();

// b
(function(){
  const X=scale(5,10,302,527),Y=scale(0,168,197,29),g=byId("b-marks");
  const series=[["xrd-b-zif",bZif,stackOffsetZif,GRAY],["xrd-b-ni-zif",bNiZif,stackOffsetNiZif,RED],["xrd-b-som",bSom,stackOffsetSom,BLUE],["xrd-b-ni-som",bNiSom,stackOffsetNiSom,ORANGE],["xrd-b-co-som",bCo,stackOffsetCo,GREEN],["xrd-b-cu-som",bCu,stackOffsetCu,PURPLE]];
  series.forEach(s=>drawCurve(g,s[0],bTheta.map((t,i)=>[t,s[1][i]+s[2]]),X,Y,s[3],1,true));
  xAxis(byId("b-axis"),bXTicks,X,197,211,11,null,.5);
})();

// c
(function(){
  const X=scale(100,500,591.7,767.7),Y=scale(0,100,193.3,46.3),g=byId("c-marks");
  drawCurve(g,"tg-line",cCurve,X,Y,"#d81c2a",1.4,true);
  const ax=byId("c-axis");
  drawTick(ax,565,32,565,198);
  drawTick(ax,565,198,790,198);
  xAxis(ax,cXTicks,X,198,211,9.5,null,50);
  drawTick(ax,X(50),198,X(50),200,.8);
  yAxis(ax,cYTicks,Y,565,560,9.5,null,10);
})();

// d
(function(){
  const X=scale(50,350,52,274),Y=scale(0,167,401,234),g=byId("d-marks");
  drawCurve(g,"tpd-zif",dGray,X,Y,"#777",1.2,true);
  drawCurve(g,"tpd-som",dBlue,X,Y,BLUE,1.4,true);
  drawCurve(g,"tpd-som-ni",dGreen,X,Y,GREEN,1.2,true);
  xAxis(byId("d-axis"),dXTicks,X,401,413,9.5,null,25);
})();

// e
(function(){
  const X=scale(8320,8400,336.7,512.6),Y=scale(0,1.8,395,238),g=byId("e-marks");
  drawCurve(g,"xanes-foil",eFoil,X,Y,"#777",1,true);
  drawCurve(g,"xanes-nio",eNiO,X,Y,ORANGE,1.2,true);
  drawCurve(g,"xanes-ni2o3",eNi2O3,X,Y,BLUE,1.2,true);
  drawCurve(g,"xanes-pc",ePc,X,Y,GREEN,1.2,true);
  drawCurve(g,"xanes-ni-som",eNiSom,X,Y,RED,1.2,true);
  const ax=byId("e-axis");
  xAxis(ax,eXTicks,X,400,412.5,10.5,null,10);
  yAxis(ax,eYTicks,Y,317.7,313,10.5,f1,.15);
  const IX=scale(8332,8334,447.7,506.1),IY=scale(0,.2,387.5,330),im=byId("inset-marks");
  drawCurve(im,"inset-foil",insetFoil,IX,IY,"#777",.8,true);
  drawCurve(im,"inset-ni-som",insetNiSom,IX,IY,RED,.8,true);
  drawCurve(im,"inset-pc",insetPc,IX,IY,GREEN,.8,true);
  drawCurve(im,"inset-nio",insetNiO,IX,IY,ORANGE,.8,true);
  drawCurve(im,"inset-ni2o3",insetNi2O3,IX,IY,"#4aa8ee",.8,true);
  const ia=byId("inset-axis");
  xAxis(ia,insetXTicks,IX,388,397.5,8,null,.5,2);
  yAxis(ia,insetYTicks,IY,421,418,8,f1,null,2);
})();

// f
(function(){
  const X=scale(0,6,578,790),Y=scale(0,2,389.7,258.3),g=byId("f-marks");
  drawCurve(g,"exafs-foil",fFoil,X,Y,"#777",1,true);
  drawCurve(g,"exafs-nio",fNiO,X,Y,ORANGE,1.2,true);
  drawCurve(g,"exafs-ni2o3",fNi2O3,X,Y,BLUE,1.2,true);
  drawCurve(g,"exafs-pc",fPc,X,Y,GREEN,1.2,true);
  drawCurve(g,"exafs-ni-som",fNiSom,X,Y,RED,1,true);
  const ax=byId("f-axis");
  xAxis(ax,fXTicks,X,396,408,10.5,null,.5);
  yAxis(ax,fYTicks,Y,578,573,10.5,f1,.25);
})();

// heatmaps
const jetStops=[[0,0,0,127],[.11,0,0,255],[.36,0,255,255],[.625,255,255,0],[.875,255,0,0],[1,90,0,0]];
function jet(t){
  t=Math.max(0,Math.min(1,t));
  for(let i=1;i<jetStops.length;i++){
    if(t<=jetStops[i][0]){
      const a=jetStops[i-1],b=jetStops[i],f=(t-a[0])/(b[0]-a[0]);
      return "rgb("+[1,2,3].map(c=>Math.round(a[c]+(b[c]-a[c])*f)).join(",")+")";
    }
  }
  return "rgb(90,0,0)";
}
function drawHeat(parent,name,ks,rs,values,maxV,X,Y){
  const sub=3;
  for(let r=0;r<rs.length-1;r++){
    for(let c=0;c<ks.length-1;c++){
      for(let a=0;a<sub;a++){
        for(let b=0;b<sub;b++){
          const fx=(b+.5)/sub,fy=(a+.5)/sub;
          const v=values[r][c]*(1-fx)*(1-fy)+values[r][c+1]*fx*(1-fy)+values[r+1][c]*(1-fx)*fy+values[r+1][c+1]*fx*fy;
          let x0=X(ks[c]+(ks[c+1]-ks[c])*b/sub),x1=X(ks[c]+(ks[c+1]-ks[c])*(b+1)/sub);
          let y0=Y(rs[r]+(rs[r+1]-rs[r])*a/sub),y1=Y(rs[r]+(rs[r+1]-rs[r])*(a+1)/sub);
          if(c===0&&b===0)x0-=5;
          if(c===ks.length-2&&b===sub-1)x1+=5;
          if(r===0&&a===0)y0-=5;
          if(r===rs.length-2&&a===sub-1)y1+=5;
          const el=document.createElementNS(NS,"rect");
          
          
          el.setAttribute("x",x0.toFixed(2));
          el.setAttribute("y",y0.toFixed(2));
          el.setAttribute("width",(x1-x0+.4).toFixed(2));
          el.setAttribute("height",(y1-y0+.4).toFixed(2));
          el.setAttribute("fill",jet(v/maxV));
          parent.appendChild(el);
        }
      }
    }
  }
}
function drawBarLabels(parent,labels,x,yBottom,yTop){
  const Y=scale(0,labels.length-1,yBottom,yTop);
  labels.forEach((s,i)=>{
    drawTick(parent,x-2.5,Y(i),x-.5,Y(i),.6);
    drawLabel(parent,s,x+.5,Y(i)+1.6,4.6,"start");
  });
}
(function(){
  const X=scale(0,15,54,231),Y=scale(0,4.53,610,439);
  drawHeat(byId("g-heat"),"heat-cell-g",gK,gR,gValues,gMax,X,Y);
  const ax=byId("g-axis");
  xAxis(ax,gXTicks,X,610,625,12.5,null,1.5);
  yAxis(ax,gYTicks,Y,54,49,12.5,null,.5);
  drawBarLabels(byId("g-bar"),gBarLabels,260,610,439);
})();
(function(){
  const X=scale(0,15,309.3,487.7),Y=scale(.5,4.5,607.7,438);
  drawHeat(byId("h-heat"),"heat-cell-h",hK,hR,hValues,hMax,X,Y);
  const ax=byId("h-axis");
  xAxis(ax,hXTicks,X,607.7,623,12.5,null,1.5);
  yAxis(ax,hYTicks,Y,309.3,304.5,12.5,null,.5);
  drawBarLabels(byId("h-bar"),hBarLabels,515.5,606,440);
})();

// i
(function(){
  const X=scale(0,6,580,789.3),Y=scale(0,1.6,523.3,436),g=byId("i-marks");
  drawCurve(g,"fit-data",iData,X,Y,"#d6d6d6",3.6,true);
  drawCurve(g,"fit-window",iWindow,X,Y,"#2b5c8a",1.2,false,"5 3");
  drawCurve(g,"fit-line",iFit,X,Y,"#d81c2a",1.2,true);
  iDataRe.forEach(d=>{
    const c=document.createElementNS(NS,"circle");
    
    
    c.setAttribute("cx",X(d[0]).toFixed(2));
    c.setAttribute("cy",Y(d[1]).toFixed(2));
    c.setAttribute("r","2.4");
    c.setAttribute("fill","none");
    c.setAttribute("stroke","#8fd2f2");
    c.setAttribute("stroke-width",".8");
    g.appendChild(c);
  });
  drawCurve(g,"fit-re-line",iFitRe,X,Y,"#1f4fd8",1.2,true);
  const ax=byId("i-axis");
  xAxis(ax,iXTicks,X,604.3,619,11.5,null,.5);
  yAxis(ax,iYTicks,Y,580,575,12,f1,.2);
})();

// atomic structure illustration (drawn in a 3x local coordinate space)
const structGold=[[393,88],[425,120],[395,180],[428,180],[432,212],[510,212],[520,180],[545,180],[520,85],[545,88],[445,70],[498,70],[410,100],[415,165],[525,100],[525,165],[450,190],[490,190],[610,178],[632,205],[640,175],[730,180],[760,175],[740,85],[640,262],[665,262],[715,262],[740,262],[410,268],[445,262],[495,262],[528,262],[610,85],[637,80]];
const structNavy=[[395,115],[395,150],[440,100],[500,100],[435,165],[505,165],[470,208],[545,115],[545,150],[610,160],[650,205],[715,210],[760,95],[435,262],[510,268],[670,265],[705,265],[605,95]];
const structTeal=[[375,70],[412,68],[520,65],[570,70],[640,72],[665,110],[410,210],[370,90],[495,185],[455,182],[660,150],[630,165],[720,160],[745,155],[705,170],[720,72],[765,70],[625,245],[410,250],[530,240],[635,245],[735,240],[490,125],[450,125],[530,200]];
const structMetal=[[470,135],[472,240],[687,238]];
const structRed=[[585,133]];
(function(){
  const g=byId("i-structure");
  const all=structGold.concat(structNavy,structTeal,structMetal,structRed);
  let d="";
  for(let i=0;i<all.length;i++){
    for(let j=i+1;j<all.length;j++){
      const dist=Math.hypot(all[i][0]-all[j][0],all[i][1]-all[j][1]);
      if(dist<42)d+="M"+all[i][0]+" "+all[i][1]+"L"+all[j][0]+" "+all[j][1];
    }
  }
  const bonds=document.createElementNS(NS,"path");
  
  
  bonds.setAttribute("d",d);
  bonds.setAttribute("stroke","#8f7f36");
  bonds.setAttribute("stroke-width","5");
  bonds.setAttribute("fill","none");
  g.appendChild(bonds);
  const addAtoms=(list,r,color,name)=>{
    list.forEach(p=>{
      const c=document.createElementNS(NS,"circle");
      
      
      c.setAttribute("cx",p[0]);c.setAttribute("cy",p[1]);
      c.setAttribute("r",r);c.setAttribute("fill",color);
      g.appendChild(c);
    });
  };
  addAtoms(structTeal,6,"#3aa6a6","atom-hydrogen");
  addAtoms(structGold,9.5,"#8a7420","atom-carbon");
  addAtoms(structNavy,7,"#26236f","atom-nitrogen");
  addAtoms(structMetal,14,"#d8954c","atom-zinc");
  addAtoms(structRed,10,"#c8123c","atom-nickel");
  const ring=document.createElementNS(NS,"circle");
  
  
  ring.setAttribute("cx","590");ring.setAttribute("cy","128");ring.setAttribute("r","48");
  ring.setAttribute("fill","none");ring.setAttribute("stroke","#e8505a");
  ring.setAttribute("stroke-width","2.2");ring.setAttribute("stroke-dasharray","8 6");
  g.appendChild(ring);
})();
</script>
</body>
</html>
